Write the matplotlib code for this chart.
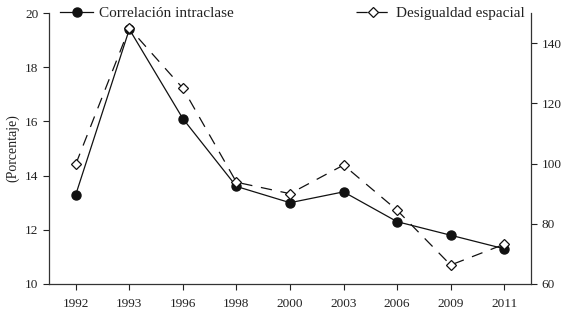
import matplotlib
matplotlib.use("Agg")
import matplotlib.pyplot as plt

years = ["1992", "1993", "1996", "1998", "2000", "2003", "2006", "2009", "2011"]
correlacion = [13.3, 19.4, 16.1, 13.6, 13.0, 13.4, 12.3, 11.8, 11.3]
desigualdad = [99.8, 145.0, 125.0, 93.8, 90.0, 99.5, 84.5, 66.3, 73.2]

plt.rcParams['font.family'] = ['Liberation Serif', 'DejaVu Serif']
txt = '#222222'

fig = plt.figure(figsize=(5.67, 3.14), dpi=100)
ax = fig.add_axes([49/567, 1-284/314, (531-49)/567, (284-13)/314])
ax2 = ax.twinx()

x = list(range(len(years)))
l1, = ax.plot(x, correlacion, color='#111111', lw=0.9, marker='o', ms=6.5,
              mfc='#111111', mec='#111111', label='Correlación intraclase')
l2, = ax2.plot(x, desigualdad, color='#111111', lw=0.9, dashes=(9, 7), marker='D', ms=5,
               mfc='white', mec='#111111', mew=0.9, label='Desigualdad espacial')

ax.set_xlim(-0.5, 8.5)
ax.set_ylim(10, 20)
ax.set_yticks([10, 12, 14, 16, 18, 20])
ax2.set_ylim(60, 150)
ax2.set_yticks([60, 80, 100, 120, 140])
ax.set_xticks(x)
ax.set_xticklabels(years)

for a in (ax, ax2):
    a.spines['top'].set_visible(False)
    for s in a.spines.values():
        s.set_color('#333333')
        s.set_linewidth(0.9)
    a.tick_params(colors=txt, labelsize=9.5, length=4, width=0.8, direction='out')
ax.spines['right'].set_visible(False)
ax2.spines['left'].set_visible(False)
ax2.spines['bottom'].set_visible(False)
ax.tick_params(axis='x', pad=6)

ax.set_ylabel('(Porcentaje)', color=txt, fontsize=10, labelpad=4)

leg1 = ax.legend(handles=[l1], loc='center left', bbox_to_anchor=(0.0, 1.0), frameon=False,
                 fontsize=11, handlelength=2.2, handletextpad=0.4, borderaxespad=0.3)
for t in leg1.get_texts():
    t.set_color(txt)
leg2 = ax2.legend(handles=[l2], loc='center right', bbox_to_anchor=(1.0, 1.0), frameon=False,
                  fontsize=11, handlelength=2.2, handletextpad=0.4, borderaxespad=0.0)
for t in leg2.get_texts():
    t.set_color(txt)

fig.savefig('out.png', dpi=100)
